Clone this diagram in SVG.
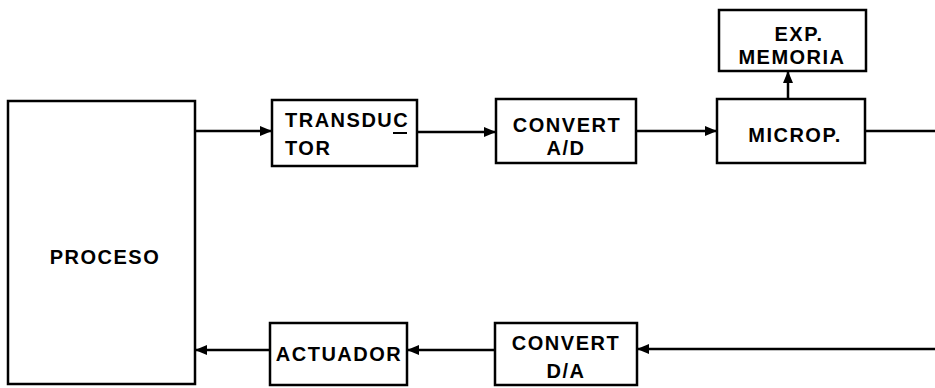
<svg xmlns="http://www.w3.org/2000/svg" width="935" height="388" viewBox="0 0 935 388">
  <defs>
    <marker id="arrow" viewBox="0 0 12 10" refX="12" refY="5" markerWidth="12" markerHeight="10" markerUnits="userSpaceOnUse" orient="auto">
      <path d="M0,0 L12,5 L0,10 Z" fill="#000"/>
    </marker>
    <style>
      .box { fill: #fff; stroke: #000; stroke-width: 2.5; }
      .wire { fill: none; stroke: #000; stroke-width: 2.5; }
      .lbl { font-family: "Liberation Sans", Arial, sans-serif; font-weight: bold; font-size: 20px; fill: #000; letter-spacing: 1.5px; }
    </style>
  </defs>
  <rect width="935" height="388" fill="#fff"/>

  <g id="proceso">
    <rect class="box" x="8" y="101" width="187" height="283"/>
    <text class="lbl" x="105" y="264" text-anchor="middle">PROCESO</text>
  </g>

  <g id="transductor">
    <rect class="box" x="272" y="100" width="145" height="66"/>
    <text class="lbl" x="285" y="127">TRANSDUC</text>
    <line x1="393" y1="133" x2="407" y2="133" stroke="#000" stroke-width="2"/>
    <text class="lbl" x="285" y="155">TOR</text>
  </g>

  <g id="convert-ad">
    <rect class="box" x="496" y="99" width="140" height="64"/>
    <text class="lbl" x="567" y="132" text-anchor="middle">CONVERT</text>
    <text class="lbl" x="566" y="155" text-anchor="middle" letter-spacing="4">A/D</text>
  </g>

  <g id="microp">
    <rect class="box" x="717" y="99" width="148" height="64"/>
    <text class="lbl" x="795" y="142" text-anchor="middle" letter-spacing="2.5">MICROP.</text>
  </g>

  <g id="exp-memoria">
    <rect class="box" x="719" y="10" width="147" height="61"/>
    <text class="lbl" x="799" y="41" text-anchor="middle" letter-spacing="3">EXP.</text>
    <text class="lbl" x="792" y="64" text-anchor="middle">MEMORIA</text>
  </g>

  <g id="actuador">
    <rect class="box" x="270" y="323" width="137" height="62"/>
    <text class="lbl" x="339" y="361" text-anchor="middle">ACTUADOR</text>
  </g>

  <g id="convert-da">
    <rect class="box" x="495" y="323" width="142" height="62"/>
    <text class="lbl" x="566" y="350" text-anchor="middle">CONVERT</text>
    <text class="lbl" x="566" y="378" text-anchor="middle" letter-spacing="4">D/A</text>
  </g>

  <g id="connectors">
    <line class="wire" x1="195" y1="131" x2="272" y2="131" marker-end="url(#arrow)"/>
    <line class="wire" x1="417" y1="132" x2="496" y2="132" marker-end="url(#arrow)"/>
    <line class="wire" x1="636" y1="131" x2="717" y2="131" marker-end="url(#arrow)"/>
    <line class="wire" x1="788" y1="99" x2="788" y2="71" marker-end="url(#arrow)"/>
    <line class="wire" x1="865" y1="131" x2="935" y2="131"/>
    <line class="wire" x1="935" y1="349" x2="637" y2="349" marker-end="url(#arrow)"/>
    <line class="wire" x1="495" y1="350" x2="407" y2="350" marker-end="url(#arrow)"/>
    <line class="wire" x1="270" y1="350" x2="195" y2="350" marker-end="url(#arrow)"/>
  </g>
</svg>
